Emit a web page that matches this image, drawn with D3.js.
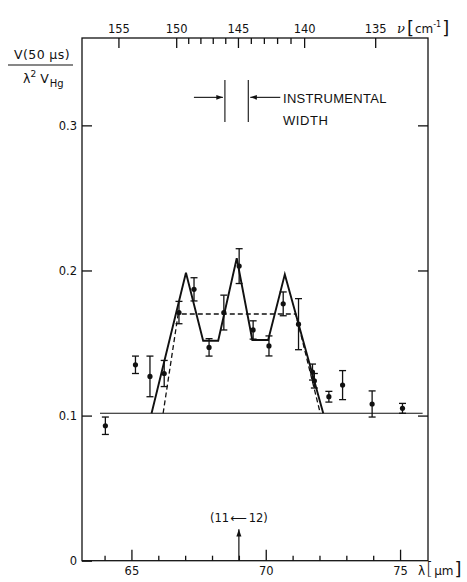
<!DOCTYPE html>
<html><head><meta charset="utf-8">
<script src="https://cdn.jsdelivr.net/npm/d3@7"></script>
<style>
body{margin:0;background:#fff;}
svg{display:block;font-family:"Liberation Sans",Arial,sans-serif;}
</style></head><body>
<svg id="chart" width="467" height="582"></svg>
<script>
// Measured points: wavelength (µm), normalized signal, one-sigma error
const wavelength = [64.03, 65.15, 65.69, 66.22, 66.77, 67.33, 67.89, 68.44, 69.01, 69.53, 70.12, 70.65, 71.22, 71.74, 71.81, 72.35, 72.86, 73.96, 75.09];
const signal     = [0.093, 0.135, 0.127, 0.129, 0.171, 0.187, 0.147, 0.171, 0.203, 0.159, 0.148, 0.177, 0.163, 0.130, 0.124, 0.113, 0.121, 0.108, 0.105];
const errorBar   = [0.006, 0.006, 0.014, 0.009, 0.0077, 0.008, 0.006, 0.012, 0.012, 0.0063, 0.0069, 0.0082, 0.0176, 0.0055, 0.005, 0.0037, 0.010, 0.009, 0.0034];

// Three-line model profile (solid) and single-band profile (dashed)
const modelLambda = [65.75, 67.03, 67.67, 68.23, 68.92, 69.50, 70.09, 70.71, 72.14];
const modelValue  = [0.1016, 0.1984, 0.1516, 0.1516, 0.2084, 0.1521, 0.1521, 0.1973, 0.1016];
const bandLambda  = [66.18, 66.74, 71.12, 72.03];
const bandValue   = [0.1016, 0.170, 0.170, 0.1016];
const baselineLambda = [63.83, 75.84];
const baselineValue  = 0.1016;

// Axis ticks
const lambdaMajor = [65, 70, 75];
const lambdaMinor = [64, 66, 67, 68, 69, 71, 72, 73, 74];
const nuMajor = [155, 150, 145, 140, 135];
const nuMinor = [149, 148, 147, 146, 144, 143, 142, 141];
const yTicks = [0, 0.1, 0.2, 0.3];

// Instrumental width marker (µm) and the (11←12) line position
const instrumentLambda = [68.48, 69.35];
const transitionLambda = 69.0;
const transitionFrom = "11", transitionTo = "12";

const W = 467, H = 582;
const margin = {top: 38, right: 39, bottom: 21.3, left: 82};
const svg = d3.select("#chart");

const x = d3.scaleLinear().domain([63.16, 76.04]).range([margin.left, W - margin.right]);
const y = d3.scaleLinear().domain([0, 0.3602]).range([H - margin.bottom, margin.top]);
const ink = "#111";
const tickFont = "'DejaVu Sans', sans-serif";

// frame
svg.append("rect")
  .attr("x", x.range()[0]).attr("y", y.range()[1])
  .attr("width", x.range()[1] - x.range()[0])
  .attr("height", y.range()[0] - y.range()[1])
  .attr("fill", "none").attr("stroke", ink).attr("stroke-width", 1.3);

function styleAxis(g) {
  g.select(".domain").remove();
  g.selectAll(".tick line").attr("stroke", ink).attr("stroke-width", 1.3);
  g.selectAll(".tick text").attr("fill", ink).attr("font-size", 11.5)
    .attr("font-family", tickFont);
}

// bottom wavelength axis
svg.append("g").attr("transform", `translate(0,${y(0)})`)
  .call(d3.axisBottom(x).tickValues(lambdaMajor).tickSizeInner(-11).tickSizeOuter(0).tickPadding(6).tickFormat(d3.format("d")))
  .call(styleAxis);
svg.append("g").attr("transform", `translate(0,${y(0)})`)
  .call(d3.axisBottom(x).tickValues(lambdaMinor).tickSizeInner(-5).tickSizeOuter(0).tickFormat(""))
  .call(styleAxis);

// top wavenumber axis, ν = 10^4 / λ
svg.append("g").attr("transform", `translate(0,${y.range()[1]})`)
  .call(d3.axisTop(x).tickValues(nuMajor.map(n => 1e4 / n)).tickSizeInner(-10).tickSizeOuter(0).tickPadding(5)
    .tickFormat(d => Math.round(1e4 / d)))
  .call(styleAxis);
svg.append("g").attr("transform", `translate(0,${y.range()[1]})`)
  .call(d3.axisTop(x).tickValues(nuMinor.map(n => 1e4 / n)).tickSizeInner(-6).tickSizeOuter(0).tickFormat(""))
  .call(styleAxis);

// left and right value axes
svg.append("g").attr("transform", `translate(${x.range()[0]},0)`)
  .call(d3.axisLeft(y).tickValues(yTicks).tickSizeInner(-10).tickSizeOuter(0).tickPadding(5)
    .tickFormat(d => d === 0 ? "0" : d3.format(".1f")(d)))
  .call(styleAxis);
svg.append("g").attr("transform", `translate(${x.range()[1]},0)`)
  .call(d3.axisRight(y).tickValues(yTicks.filter(d => d > 0)).tickSizeInner(-10).tickSizeOuter(0).tickFormat(""))
  .call(styleAxis);

// axis titles
const lt = svg.append("text").attr("x", 418).attr("y", 575).attr("fill", ink).attr("font-size", 12)
  .attr("font-family", tickFont);
lt.append("tspan").text("\u03bb");
lt.append("tspan").attr("font-size", 18).attr("dx", 1).attr("font-weight", 300).text("[");
lt.append("tspan").attr("dx", 1).text("\u00b5m");
lt.append("tspan").attr("font-size", 18).attr("dx", 1).text("]");

const nt = svg.append("text").attr("x", 397).attr("y", 33).attr("fill", ink).attr("font-size", 12)
  .attr("font-family", tickFont);
nt.append("tspan").attr("font-family", "'DejaVu Serif'").attr("font-style", "italic").attr("font-size", 13).text("\u03bd");
nt.append("tspan").attr("font-size", 18).attr("dx", 2).attr("dy", 1).text("[");
nt.append("tspan").attr("dx", 1).attr("dy", -1).text("cm");
nt.append("tspan").attr("font-size", 8).attr("dy", -6).text("-1");
nt.append("tspan").attr("font-size", 18).attr("dy", 7).attr("dx", 1).text("]");

// y-axis quantity as a fraction
const yl = svg.append("g").attr("fill", ink).attr("font-family", tickFont);
yl.append("text").attr("x", 42).attr("y", 59).attr("text-anchor", "middle").attr("font-size", 12.5)
  .attr("letter-spacing", 0.4).text("V(50 \u00b5s)");
yl.append("line").attr("x1", 8).attr("x2", 73).attr("y1", 65).attr("y2", 65)
  .attr("stroke", ink).attr("stroke-width", 1.2);
const den = yl.append("text").attr("x", 23).attr("y", 83).attr("font-size", 12.5);
den.append("tspan").text("\u03bb");
den.append("tspan").attr("font-size", 9).attr("dy", -6).text("2");
den.append("tspan").attr("dy", 6).attr("dx", 4).text("V");
den.append("tspan").attr("font-size", 10).attr("dy", 4).attr("dx", 1).text("Hg");

// baseline
svg.append("line")
  .attr("x1", x(baselineLambda[0])).attr("x2", x(baselineLambda[1]))
  .attr("y1", y(baselineValue)).attr("y2", y(baselineValue))
  .attr("stroke", ink).attr("stroke-width", 1.2);

const line = d3.line().x(d => x(d[0])).y(d => y(d[1]));

// dashed single-band profile
svg.append("path").datum(d3.zip(bandLambda, bandValue))
  .attr("d", line).attr("fill", "none").attr("stroke", ink)
  .attr("stroke-width", 1.3).attr("stroke-dasharray", "5,3");

// solid three-line model
svg.append("path").datum(d3.zip(modelLambda, modelValue))
  .attr("d", line).attr("fill", "none").attr("stroke", ink)
  .attr("stroke-width", 1.9).attr("stroke-linejoin", "miter");

// data points with error bars
const pts = svg.append("g").selectAll("g")
  .data(d3.zip(wavelength, signal, errorBar)).join("g");
pts.append("line")
  .attr("x1", d => x(d[0])).attr("x2", d => x(d[0]))
  .attr("y1", d => y(d[1] - d[2])).attr("y2", d => y(d[1] + d[2]))
  .attr("stroke", ink).attr("stroke-width", 1.3);
pts.selectAll(".cap").data(d => [[d[0], d[1] - d[2]], [d[0], d[1] + d[2]]]).join("line")
  .attr("x1", d => x(d[0]) - 3.5).attr("x2", d => x(d[0]) + 3.5)
  .attr("y1", d => y(d[1])).attr("y2", d => y(d[1]))
  .attr("stroke", ink).attr("stroke-width", 1.3);
pts.append("circle")
  .attr("cx", d => x(d[0])).attr("cy", d => y(d[1])).attr("r", 2.6).attr("fill", ink);

// instrumental width marker
const iTop = 0.3312, iBot = 0.3023, iArrow = 0.3193;
instrumentLambda.forEach(l => {
  svg.append("line").attr("x1", x(l)).attr("x2", x(l)).attr("y1", y(iTop)).attr("y2", y(iBot))
    .attr("stroke", ink).attr("stroke-width", 1.1);
});
svg.append("defs").append("marker").attr("id", "ah").attr("viewBox", "0 0 10 10")
  .attr("refX", 10).attr("refY", 5).attr("markerWidth", 6).attr("markerHeight", 6)
  .attr("orient", "auto-start-reverse")
  .append("path").attr("d", "M0,1.5 L10,5 L0,8.5 Z").attr("fill", ink);
const ya = y(iArrow);
svg.append("line").attr("x1", x(instrumentLambda[0]) - 31).attr("x2", x(instrumentLambda[0]) - 2)
  .attr("y1", ya).attr("y2", ya).attr("stroke", ink).attr("stroke-width", 1.1).attr("marker-end", "url(#ah)");
svg.append("line").attr("x1", x(instrumentLambda[1]) + 32).attr("x2", x(instrumentLambda[1]) + 2)
  .attr("y1", ya).attr("y2", ya).attr("stroke", ink).attr("stroke-width", 1.1).attr("marker-end", "url(#ah)");
svg.append("text").attr("x", 283).attr("y", 103).attr("font-size", 13).attr("fill", ink)
  .attr("letter-spacing", 0.3).text("INSTRUMENTAL");
svg.append("text").attr("x", 283).attr("y", 125).attr("font-size", 13).attr("fill", ink)
  .attr("letter-spacing", 0.6).text("WIDTH");

// transition marker
svg.append("line").attr("x1", x(transitionLambda)).attr("x2", x(transitionLambda))
  .attr("y1", y(0)).attr("y2", y(0.0216))
  .attr("stroke", ink).attr("stroke-width", 1.2).attr("marker-end", "url(#ah)");
const tl = svg.append("text").attr("x", x(transitionLambda)).attr("y", 522).attr("text-anchor", "middle")
  .attr("font-size", 11.5).attr("fill", ink).attr("font-family", tickFont);
tl.append("tspan").text("(" + transitionFrom);
tl.append("tspan").attr("dx", 1).text("\u27f5");
tl.append("tspan").attr("dx", 2).text(transitionTo + ")");
</script>
</body></html>
